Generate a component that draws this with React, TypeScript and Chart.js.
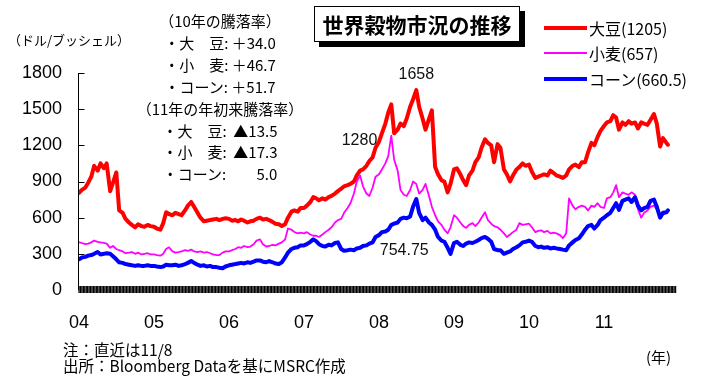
import React, { useEffect, useRef } from "react";
import { Chart, registerables } from "chart.js";

Chart.register(...registerables);

// Observation dates: 1st and 15th of every month, last print 2011/11/8
const FIRST_YEAR = 2004;
const LAST_YEAR = 2011;
const LAST_DATE = "2011-11-08";
const DAYS_IN_MONTH = ["01", "15"];
const YEAR_TICKS = [2004, 2005, 2006, 2007, 2008, 2009, 2010, 2011];

const DATES: string[] = [];
for (let y = FIRST_YEAR; y <= LAST_YEAR; y++) {
  for (let m = 1; m <= 12; m++) {
    for (const d of DAYS_IN_MONTH) {
      const s = `${y}-${String(m).padStart(2, "0")}-${d}`;
      if (s < LAST_DATE) DATES.push(s);
    }
  }
}
DATES.push(LAST_DATE);

// 大豆 (cents / bushel), one row per year
const SOYBEAN = [
  805, 830, 850, 890, 940, 1030, 990, 1050, 1010, 1050, 820, 890, 975, 660, 640, 590, 560, 540, 520, 545, 530, 525, 540, 530,
  525, 510, 500, 555, 645, 630, 620, 640, 630, 620, 660, 700, 730, 690, 640, 600, 570, 575, 580, 585, 590, 580, 590, 595,
  590, 575, 580, 570, 585, 575, 560, 570, 575, 590, 600, 585, 590, 580, 565, 550, 545, 530, 545, 600, 650, 660, 650, 680,
  680, 700, 730, 770, 760, 745, 760, 750, 770, 780, 800, 820, 840, 860, 870, 880, 900, 950, 990, 1000, 1030, 1070, 1100, 1180,
  1230, 1300, 1380, 1470, 1540, 1300, 1330, 1380, 1360, 1420, 1520, 1580, 1658, 1520, 1420, 1330, 1420, 1490, 1020, 960, 910, 900, 810, 880,
  1000, 1010, 960, 910, 870, 950, 990, 1060, 1100, 1180, 1250, 1220, 1200, 1060, 1210, 1180, 1000, 960, 900, 950, 1000, 1020, 1050, 1030,
  1040, 980, 930, 940, 950, 960, 950, 990, 970, 950, 940, 930, 950, 1000, 1030, 1040, 1020, 1060, 1060, 1140, 1220, 1200, 1270, 1320,
  1360, 1390, 1400, 1450, 1430, 1330, 1390, 1370, 1400, 1380, 1390, 1340, 1390, 1380, 1370, 1410, 1460, 1380, 1190, 1260, 1220, 1205,
];

// 小麦
const WHEAT = [
  395, 390, 380, 385, 395, 410, 400, 395, 390, 385, 350, 365, 340, 330, 320, 305, 310, 315, 300, 310, 295, 300, 305, 295,
  295, 290, 285, 300, 340, 355, 320, 310, 315, 320, 330, 325, 335, 320, 315, 320, 310, 315, 305, 295, 290, 290, 310, 320,
  320, 330, 340, 355, 350, 365, 355, 360, 380, 410, 420, 380, 360, 365, 375, 370, 385, 395, 420, 510, 500, 481, 470, 475,
  470, 480, 460, 450, 450, 440, 460, 480, 500, 520, 560, 580, 590, 640, 680, 720, 800, 900, 950, 860, 800, 780, 850, 940,
  960, 1000, 1050, 1110, 1280, 1080, 990, 830, 790, 780, 830, 900, 880, 800, 830, 880, 780, 690, 620, 570, 540, 500, 470, 520,
  620, 600, 560, 530, 515, 540, 555, 530, 560, 600, 645, 580, 550, 530, 520, 500, 470, 440, 460, 480, 500, 555, 540, 545,
  550, 520, 480, 490, 495, 480, 490, 470, 475, 470, 455, 430, 470, 760, 700, 670, 690, 700, 690, 660, 700, 690, 720, 690,
  680, 760, 770, 810, 870, 770, 810, 800, 790, 810, 790, 670, 600, 640, 660, 690, 700, 670, 610, 625, 640, 657,
];

// コーン
const CORN = [
  255, 270, 275, 285, 290, 300, 315, 295, 300, 305, 300, 280, 255, 230, 225, 215, 210, 205, 200, 205, 200, 200, 205, 200,
  200, 195, 190, 195, 210, 205, 205, 210, 200, 205, 215, 225, 240, 225, 210, 200, 205, 195, 200, 190, 190, 185, 180, 195,
  205, 210, 215, 220, 225, 220, 230, 225, 235, 245, 245, 235, 230, 240, 230, 220, 215, 230, 270, 310, 340, 350, 355, 370,
  370, 380, 400, 420, 405, 380, 365, 360, 375, 370, 390, 395, 340, 325, 330, 335, 330, 345, 350, 365, 370, 385, 395, 440,
  455, 480, 485, 500, 540, 550, 560, 590, 600, 595, 610, 690, 754.75, 640, 580, 600, 560, 540, 500, 440, 410, 400, 350, 300,
  390, 400, 375, 365, 385, 395, 390, 400, 415, 430, 440, 425, 400, 340, 330, 330, 300, 310, 320, 340, 355, 370, 395, 400,
  410, 400, 365, 355, 360, 350, 355, 345, 350, 345, 340, 335, 330, 370, 395, 415, 430, 460, 500, 530, 540, 510, 540, 580,
  600, 620, 640, 680, 720, 665, 740, 750, 760, 730, 770, 700, 660, 680, 690, 740, 750, 690, 600, 640, 645, 660.5,
];

const SERIES_NAMES = ["大豆(1205)", "小麦(657)", "コーン(660.5)"];
const SERIES_COLORS = ["#FF0000", "#FF00FF", "#0000FF"];
const SERIES_WIDTHS = [4, 1.8, 4];
const SERIES = [SOYBEAN, WHEAT, CORN];

const Y_TICKS = [0, 300, 600, 900, 1200, 1500, 1800];
const X_END = 2011.96;

// Peak values written next to their points
const CALLOUTS: { series: number; value: number; align: CanvasTextAlign; dx: number; dy: number }[] = [
  { series: 0, value: 1658, align: "center", dx: 0, dy: -16 },
  { series: 1, value: 1280, align: "right", dx: -14, dy: 5 },
  { series: 2, value: 754.75, align: "center", dx: -12, dy: 52 },
];

const NOTE_LINES = [
  "（10年の騰落率）",
  "・大　豆: ＋34.0",
  "・小　麦: ＋46.7",
  "・コーン: ＋51.7",
  "（11年の年初来騰落率）",
  "・大　豆:  ▲13.5",
  "・小　麦:  ▲17.3",
  "・コーン:         5.0",
];

function toYear(s: string): number {
  const [y, m, d] = s.split("-").map(Number);
  const start = Date.UTC(y, 0, 1);
  const end = Date.UTC(y + 1, 0, 1);
  return y + (Date.UTC(y, m - 1, d) - start) / (end - start);
}

const JP = '"Noto Sans CJK JP", "Noto Sans", sans-serif';
const LATIN = '"Liberation Sans", Arial, sans-serif';

// Axis line, inward y ticks, dense x-axis tick band, and peak callouts
const framePlugin = {
  id: "frame",
  afterDraw(chart: any) {
    const { ctx, chartArea } = chart;
    const xs = chart.scales.x;
    const ys = chart.scales.y;
    const y0 = ys.getPixelForValue(0);
    ctx.save();
    ctx.strokeStyle = "#000";
    ctx.lineWidth = 1;
    const ax = Math.round(chartArea.left) - 0.5;
    ctx.beginPath();
    ctx.moveTo(ax, chartArea.top);
    ctx.lineTo(ax, y0);
    for (const v of Y_TICKS) {
      if (v === 0) continue;
      const py = Math.round(ys.getPixelForValue(v)) + 0.5;
      ctx.moveTo(ax, py);
      ctx.lineTo(ax + 6, py);
    }
    ctx.stroke();

    // weekly tick marks along the time axis
    ctx.fillStyle = "#000";
    const step = 7 / 365.25;
    for (let t = xs.min; t <= xs.max + 1e-9; t += step) {
      const px = xs.getPixelForValue(t);
      ctx.fillRect(px - 0.6, y0 - 4, 1.3, 7);
    }
    ctx.restore();

    ctx.save();
    ctx.font = `16px ${LATIN}`;
    ctx.fillStyle = "#111";
    ctx.textBaseline = "middle";
    for (const c of CALLOUTS) {
      const idx = SERIES[c.series].indexOf(c.value);
      const pt = chart.getDatasetMeta(c.series).data[idx];
      if (!pt) continue;
      ctx.textAlign = c.align;
      ctx.fillText(String(c.value), pt.x + c.dx, pt.y + c.dy);
    }
    ctx.restore();
  },
};

export default function App() {
  const canvasRef = useRef<HTMLCanvasElement | null>(null);

  useEffect(() => {
    const canvas = canvasRef.current;
    if (!canvas) return;
    const xValues = DATES.map(toYear);
    const chart = new Chart(canvas, {
      type: "line",
      data: {
        datasets: SERIES.map((vals, i) => ({
          label: SERIES_NAMES[i],
          data: vals.map((v, j) => ({ x: xValues[j], y: v })),
          borderColor: SERIES_COLORS[i],
          backgroundColor: SERIES_COLORS[i],
          borderWidth: SERIES_WIDTHS[i],
          pointRadius: 0,
          tension: 0,
          borderJoinStyle: "round" as const,
          borderCapStyle: "round" as const,
          order: 2 - i,
        })),
      },
      options: {
        responsive: false,
        animation: false,
        events: [],
        layout: { padding: { left: 0, right: 25, top: 73, bottom: 0 } },
        plugins: { legend: { display: false }, tooltip: { enabled: false } },
        scales: {
          x: {
            type: "linear",
            min: FIRST_YEAR,
            max: X_END,
            grid: { display: false, drawTicks: false },
            border: { display: false },
            afterBuildTicks: (s: any) => {
              s.ticks = YEAR_TICKS.map((v) => ({ value: v }));
            },
            ticks: {
              autoSkip: false,
              maxRotation: 0,
              padding: 22,
              color: "#000",
              font: { family: LATIN, size: 18 },
              callback: (v: any) => String(v).slice(2),
            },
            afterFit: (s: any) => {
              s.height = 95;
            },
          },
          y: {
            min: 0,
            max: 1800,
            grid: { display: false, drawTicks: false },
            border: { display: false },
            ticks: {
              stepSize: 300,
              padding: 17,
              color: "#000",
              font: { family: LATIN, size: 18 },
              callback: (v: any) => String(v),
            },
            afterFit: (s: any) => {
              s.width = 79;
            },
          },
        },
      },
      plugins: [framePlugin],
    });
    return () => chart.destroy();
  }, []);

  const legendRows = [28, 53, 79];

  return (
    <div
      style={{
        position: "fixed",
        left: 0,
        top: 0,
        width: 701,
        height: 385,
        background: "#fff",
        overflow: "hidden",
        color: "#000",
      }}
    >
      <canvas
        ref={canvasRef}
        width={701}
        height={385}
        style={{ position: "absolute", left: 0, top: 0, width: 701, height: 385 }}
      />
      <div
        style={{
          position: "absolute",
          left: 8,
          top: 31,
          fontFamily: JP,
          fontSize: 13,
          lineHeight: "18px",
          whiteSpace: "nowrap",
        }}
      >
        （ドル/ブッシェル）
      </div>
      <div
        style={{
          position: "absolute",
          left: 120,
          top: 10,
          width: 200,
          textAlign: "center",
          fontFamily: JP,
          fontSize: 15,
          lineHeight: "21.9px",
          whiteSpace: "pre",
        }}
      >
        {NOTE_LINES.map((t, i) => (
          <div key={i}>{t}</div>
        ))}
      </div>
      <div
        style={{
          position: "absolute",
          left: 314,
          top: 6,
          width: 206,
          height: 36,
          boxSizing: "border-box",
          border: "1px solid #000",
          background: "#fff",
          boxShadow: "5px 5px 0 #000",
          display: "flex",
          alignItems: "center",
          justifyContent: "center",
          fontFamily: JP,
          fontWeight: 700,
          fontSize: 21,
          whiteSpace: "nowrap",
        }}
      >
        世界穀物市況の推移
      </div>
      {SERIES_NAMES.map((name, i) => (
        <React.Fragment key={name}>
          <div
            style={{
              position: "absolute",
              left: 544,
              top: legendRows[i] - SERIES_WIDTHS[i] / 2,
              width: 43,
              height: SERIES_WIDTHS[i],
              background: SERIES_COLORS[i],
            }}
          />
          <div
            style={{
              position: "absolute",
              left: 589,
              top: legendRows[i] - 11,
              fontFamily: JP,
              fontSize: 16,
              lineHeight: "22px",
              whiteSpace: "nowrap",
            }}
          >
            {name}
          </div>
        </React.Fragment>
      ))}
      <div
        style={{
          position: "absolute",
          left: 63,
          top: 341,
          fontFamily: JP,
          fontSize: 15.5,
          lineHeight: "16px",
          whiteSpace: "nowrap",
        }}
      >
        <div>注：直近は11/8</div>
        <div>出所：Bloomberg Dataを基にMSRC作成</div>
      </div>
      <div
        style={{
          position: "absolute",
          left: 646,
          top: 348,
          fontFamily: JP,
          fontSize: 15,
          lineHeight: "18px",
          whiteSpace: "nowrap",
        }}
      >
        (年)
      </div>
    </div>
  );
}
